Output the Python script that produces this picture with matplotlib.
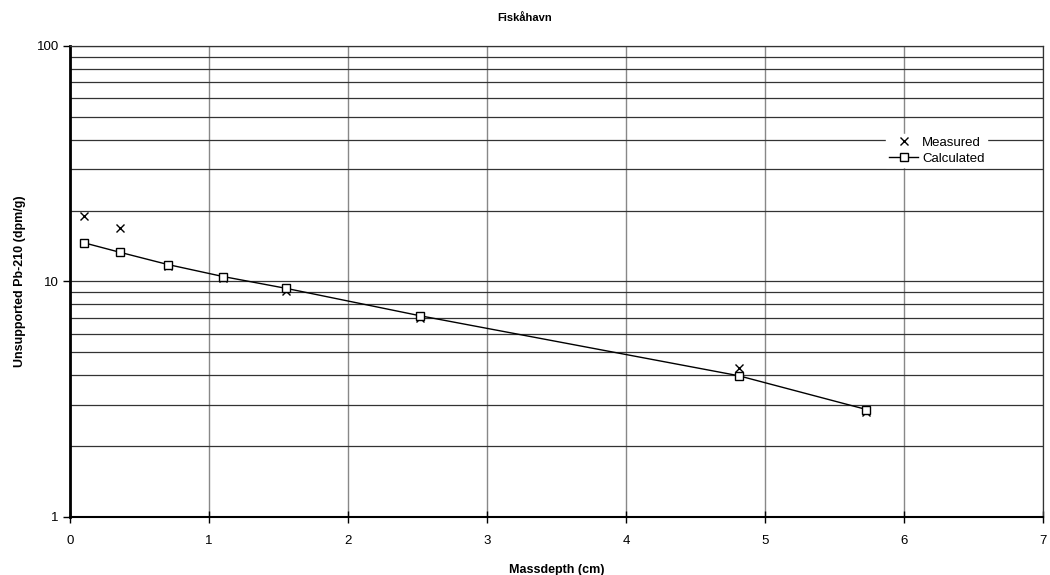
import numpy as np
from matplotlib import pyplot as plt
from matplotlib.ticker import LogLocator, NullFormatter, FixedLocator

plt.rcParams['font.family'] = ['Liberation Sans', 'DejaVu Sans']

# mass depth (cm)
depth = [0.10, 0.36, 0.705, 1.10, 1.555, 2.52, 4.81, 5.73]
measured = [18.9, 16.9, 11.6, 10.3, 9.1, 7.0, 4.3, 2.78]
calculated = [14.6, 13.3, 11.8, 10.5, 9.35, 7.15, 3.98, 2.86]

fig = plt.figure(figsize=(10.5, 5.75), dpi=100)
ax = fig.add_axes([0.0667, 0.1009, 0.9266, 0.8191])

ax.set_yscale('log')
ax.set_xlim(0, 7)
ax.set_ylim(1, 100)

ax.plot(depth, measured, linestyle='none', marker='x', color='black',
        markersize=6, markeredgewidth=1, label='Measured', zorder=3)
ax.plot(depth, calculated, color='black', linewidth=1, marker='s',
        markersize=5.5, markerfacecolor='white', markeredgecolor='black',
        markeredgewidth=1, label='Calculated', zorder=4)

ax.yaxis.set_major_locator(FixedLocator([1, 10, 100]))
ax.yaxis.set_minor_locator(LogLocator(base=10, subs=np.arange(2, 10)))
ax.yaxis.set_minor_formatter(NullFormatter())
ax.set_yticklabels(['1', '10', '100'])
ax.set_xticks(range(0, 8))

ax.grid(True, which='major', axis='x', color='#888888', linewidth=1)
ax.grid(True, which='both', axis='y', color='#333333', linewidth=0.9)
ax.set_axisbelow(True)

for s in ['top', 'right']:
    ax.spines[s].set_color('#333333')
    ax.spines[s].set_linewidth(0.9)
ax.spines['left'].set_linewidth(2)
ax.spines['bottom'].set_linewidth(1.5)

ax.tick_params(axis='x', which='major', direction='inout', length=8, width=1,
               labelsize=9.5, pad=9)
ax.tick_params(axis='y', which='major', direction='out', length=5, width=1,
               labelsize=9.5, pad=3)
ax.tick_params(axis='y', which='minor', length=0)

ax.set_xlabel('Massdepth (cm)', fontsize=9, fontweight='bold', labelpad=12)
ax.set_ylabel('Unsupported Pb-210 (dpm/g)', fontsize=9, fontweight='bold',
              labelpad=8)
fig.text(0.5, 0.968, 'Fiskåhavn', ha='center', va='center', fontsize=8,
         fontweight='bold')

leg = ax.legend(loc='upper left', bbox_to_anchor=(0.838, 0.779),
                bbox_transform=fig.transFigure, frameon=True, fontsize=9.5,
                handlelength=2.2, handletextpad=0.3, borderpad=0.2,
                labelspacing=0.3)
leg.get_frame().set_edgecolor('white')
leg.get_frame().set_facecolor('white')
leg.get_frame().set_alpha(1)
leg.get_frame().set_boxstyle('square', pad=0)

fig.savefig('out.png', dpi=100)
